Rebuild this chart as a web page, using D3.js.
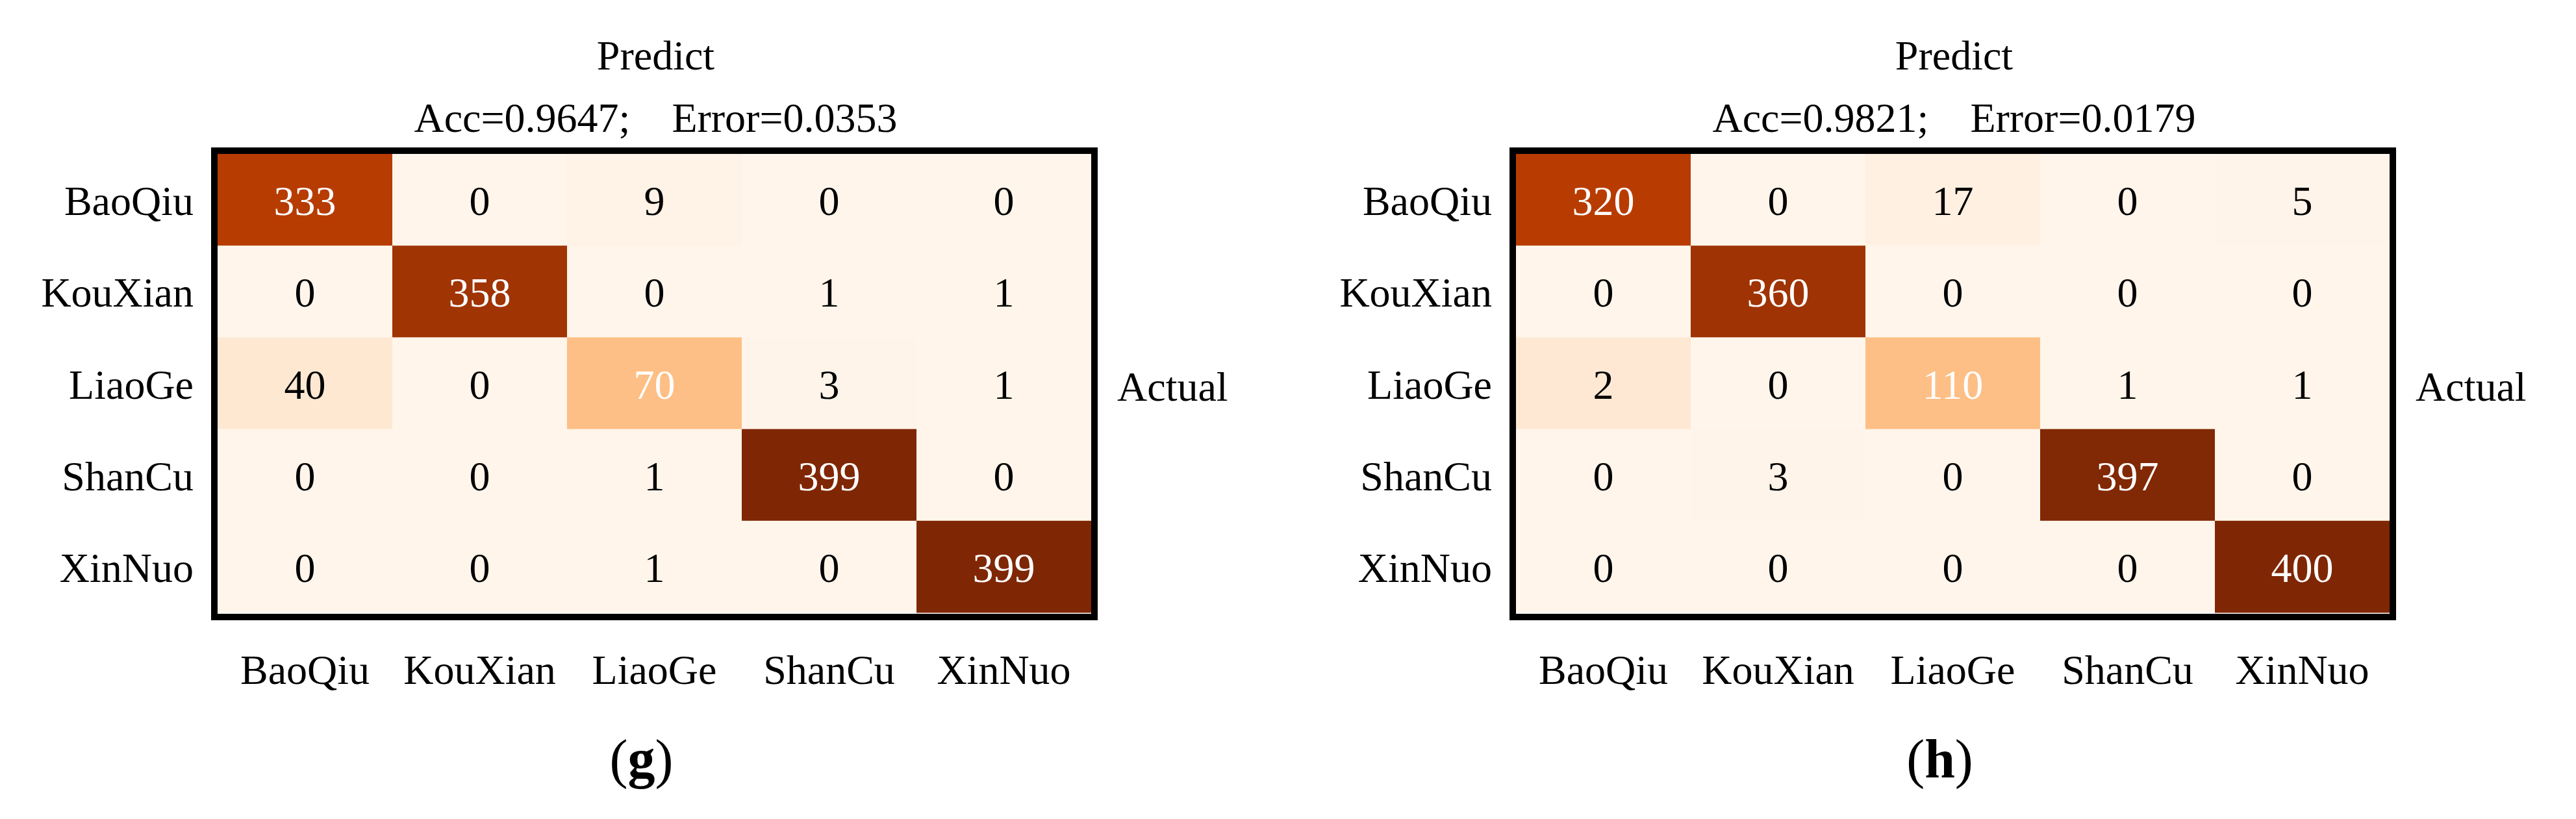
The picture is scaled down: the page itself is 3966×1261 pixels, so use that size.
<!DOCTYPE html>
<html>
<head>
<meta charset="utf-8">
<script src="https://cdn.jsdelivr.net/npm/d3@7"></script>
<style>
  body { margin: 0; background: #fff; }
  text { font-family: "Liberation Serif", "Times New Roman", serif; }
</style>
</head>
<body>
<svg id="chart"></svg>
<script>
// class names (rows = actual, columns = predicted)
const classes = ["BaoQiu", "KouXian", "LiaoGe", "ShanCu", "XinNuo"];

// confusion matrices as printed in the cells
const countsG = [
  [333, 0, 9, 0, 0],
  [0, 358, 0, 1, 1],
  [40, 0, 70, 3, 1],
  [0, 0, 1, 399, 0],
  [0, 0, 1, 0, 399]
];
const countsH = [
  [320, 0, 17, 0, 5],
  [0, 360, 0, 0, 0],
  [2, 0, 110, 1, 1],
  [0, 3, 0, 397, 0],
  [0, 0, 0, 0, 400]
];

// colour level of each cell as it shows in the figure (a few cells are shaded unlike their number)
const shadeG = [
  [333, 0, 9, 0, 0],
  [0, 358, 0, 1, 1],
  [40, 0, 125, 3, 1],
  [0, 0, 1, 399, 0],
  [0, 0, 1, 0, 399]
];
const shadeH = [
  [333, 0, 17, 0, 2],
  [0, 360, 0, 0, 0],
  [40, 0, 125, 1, 1],
  [0, 3, 0, 397, 0],
  [0, 0, 0, 0, 400]
];

const accuracy = ["0.9647", "0.9821"];
const errorRate = ["0.0353", "0.0179"];
const panelTags = ["g", "h"];

const width = 3966, height = 1261;
const fontSize = 64;
const frameW = 10;
const panelLeft = [335, 2334];   // inner left edge of each frame
const gridW = 1345, gridTop = 237, gridBottom = 943;

const svg = d3.select("#chart")
  .attr("width", width)
  .attr("height", height);

svg.append("rect").attr("width", width).attr("height", height).attr("fill", "#fff");

function drawPanel(i, counts, shade) {
  const x0 = panelLeft[i];
  const x = d3.scaleBand().domain(classes).range([x0, x0 + gridW]);
  const y = d3.scaleBand().domain(classes).range([gridTop, gridBottom]);
  const maxVal = d3.max(counts.flat());
  const color = d3.scaleSequential(d3.interpolateOranges).domain([0, maxVal]);
  const cx = x0 + gridW / 2;

  const g = svg.append("g").attr("class", "panel-" + panelTags[i]);

  const cells = [];
  classes.forEach((actual, r) => {
    classes.forEach((pred, c) => {
      cells.push({actual: actual, pred: pred, n: counts[r][c], s: shade[r][c]});
    });
  });

  g.selectAll("rect.cell")
    .data(cells)
    .enter().append("rect")
    .attr("class", "cell")
    .attr("x", d => x(d.pred))
    .attr("y", d => y(d.actual))
    .attr("width", x.bandwidth() + 0.5)
    .attr("height", y.bandwidth() + 0.5)
    .attr("fill", d => color(d.s));

  g.selectAll("text.val")
    .data(cells)
    .enter().append("text")
    .attr("class", "val")
    .attr("x", d => x(d.pred) + x.bandwidth() / 2)
    .attr("y", d => y(d.actual) + y.bandwidth() / 2)
    .attr("dy", "0.37em")
    .attr("text-anchor", "middle")
    .style("font-size", fontSize + "px")
    .attr("fill", d => d.s > maxVal * 0.25 ? "#fff" : "#000")
    .text(d => d.n);

  // thick frame
  g.append("rect")
    .attr("x", x0 - frameW / 2)
    .attr("y", gridTop - frameW / 2)
    .attr("width", gridW + frameW)
    .attr("height", (gridBottom + 2) - gridTop + frameW)
    .attr("fill", "none")
    .attr("stroke", "#000")
    .attr("stroke-width", frameW);

  // row labels (actual)
  g.selectAll("text.rowlab")
    .data(classes)
    .enter().append("text")
    .attr("class", "rowlab")
    .attr("x", x0 - frameW - 27)
    .attr("y", d => y(d) + y.bandwidth() / 2)
    .attr("dy", "0.37em")
    .attr("text-anchor", "end")
    .style("font-size", fontSize + "px")
    .text(d => d);

  // column labels (predicted)
  g.selectAll("text.collab")
    .data(classes)
    .enter().append("text")
    .attr("class", "collab")
    .attr("x", d => x(d) + x.bandwidth() / 2)
    .attr("y", 1053)
    .attr("text-anchor", "middle")
    .style("font-size", fontSize + "px")
    .text(d => d);

  g.append("text")
    .attr("x", x0 + gridW + frameW + 30)
    .attr("y", y(classes[2]) + y.bandwidth() / 2)
    .attr("dy", "0.42em")
    .style("font-size", fontSize + "px")
    .text("Actual");

  g.append("text")
    .attr("x", cx + 2)
    .attr("y", 107)
    .attr("text-anchor", "middle")
    .style("font-size", fontSize + "px")
    .text("Predict");

  g.append("text")
    .attr("x", cx + 2)
    .attr("y", 203)
    .attr("text-anchor", "middle")
    .style("font-size", fontSize + "px")
    .style("white-space", "pre")
    .text("Acc=" + accuracy[i] + ";    Error=" + errorRate[i]);

  const tag = g.append("text")
    .attr("x", cx - 20)
    .attr("y", 1197)
    .attr("text-anchor", "middle")
    .style("font-size", "84px");
  tag.append("tspan").text("(");
  tag.append("tspan").style("font-weight", "bold").text(panelTags[i]);
  tag.append("tspan").text(")");
}

drawPanel(0, countsG, shadeG);
drawPanel(1, countsH, shadeH);
</script>
</body>
</html>
